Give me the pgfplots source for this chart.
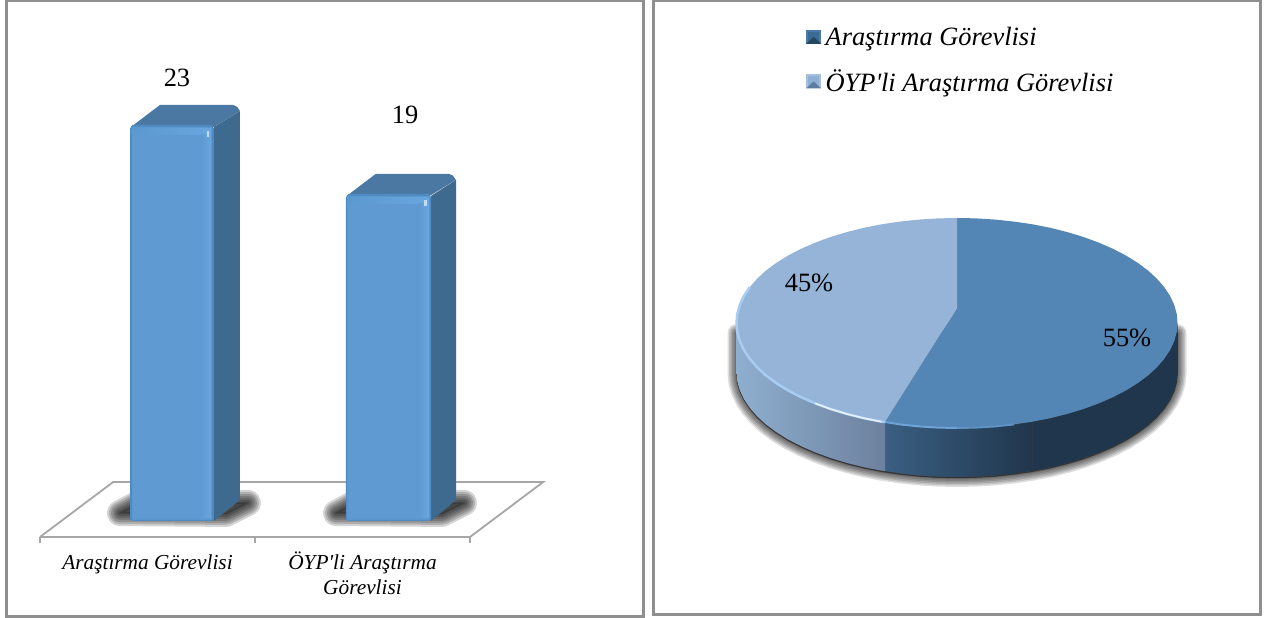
\documentclass[border=0pt]{standalone}
\usepackage{fontspec}
\usepackage{pgfplots}
\pgfplotsset{compat=1.18}
\setmainfont{Liberation Serif}
\newfontfamily\lserif{Liberation Serif}
\definecolor{panel}{HTML}{8F8F8F}
\definecolor{floorc}{HTML}{A6A6A6}
\definecolor{barflat}{HTML}{5F9BD2}
\definecolor{barlight}{HTML}{69A6DF}
\definecolor{baredge}{HTML}{4F8AC2}
\definecolor{barmid}{HTML}{5C98D0}
\definecolor{bartop}{HTML}{4A78A3}
\definecolor{barside}{HTML}{3F6A8F}
\definecolor{sliceA}{HTML}{5385B5}
\definecolor{sliceB}{HTML}{95B4D8}
\definecolor{sideAa}{HTML}{3A5F82}
\definecolor{sideAb}{HTML}{20364C}
\definecolor{sideBa}{HTML}{8FAFD0}
\definecolor{sideBb}{HTML}{6C819E}
\definecolor{legAa}{HTML}{4A7BA6}
\definecolor{legAb}{HTML}{3B6A94}
\definecolor{legAc}{HTML}{264560}
\definecolor{legBa}{HTML}{A4C0DE}
\definecolor{legBb}{HTML}{8FB0D4}
\definecolor{legBc}{HTML}{5F7C9E}
\definecolor{rimB}{HTML}{A9CCF2}
\definecolor{rimW}{HTML}{E5F1FF}
\definecolor{rimA}{HTML}{6FA2D6}
\definecolor{rimAb}{HTML}{5F92C4}
\pgfplotsset{
  blur/.style={draw=black, opacity=0.13, line join=round, fill=none, no markers, forget plot},
  blurb/.style={draw=black, opacity=0.17, line join=round, fill=none, no markers, forget plot},
  poly/.style={draw=none, no markers, forget plot},
}
\newcommand\softshadow[1]{%
  \addplot[blur,line width=18bp] coordinates {#1} -- cycle;
  \addplot[blur,line width=15bp] coordinates {#1} -- cycle;
  \addplot[blur,line width=12bp] coordinates {#1} -- cycle;
  \addplot[blur,line width=9bp] coordinates {#1} -- cycle;
  \addplot[blur,line width=6bp] coordinates {#1} -- cycle;
  \addplot[blur,line width=3bp] coordinates {#1} -- cycle;
  \addplot[blur,line width=1bp,fill=black!75,fill opacity=1,draw opacity=.3] coordinates {#1} -- cycle;
}
\newcommand\barshadow[1]{%
  \addplot[blurb,line width=26bp] coordinates {#1} -- cycle;
  \addplot[blurb,line width=22bp] coordinates {#1} -- cycle;
  \addplot[blurb,line width=18bp] coordinates {#1} -- cycle;
  \addplot[blurb,line width=14bp] coordinates {#1} -- cycle;
  \addplot[blurb,line width=10bp] coordinates {#1} -- cycle;
  \addplot[blurb,line width=6bp] coordinates {#1} -- cycle;
  \addplot[blurb,line width=2bp,fill=black,fill opacity=.17] coordinates {#1} -- cycle;
}
\begin{document}
\begin{tikzpicture}[x=1bp,y=1bp]
\useasboundingbox (0,0) rectangle (1264,618);
\draw[panel,line width=3bp] (6.5,-5) -- (6.5,617.5) -- (643,617.5) -- (643,1.5) -- (6.5,1.5);
\draw[panel,line width=3bp] (653,617.5) -- (1260,617.5) -- (1260,3.5) -- (653,3.5) -- cycle;

% ---------- bars ----------
\begin{axis}[
  at={(40bp,81bp)}, anchor=south west, scale only axis,
  width=430bp, height=446.5bp,
  xmin=0, xmax=2, ymin=-0.93, ymax=25, clip=false,
  axis x line*=bottom, axis y line=none,
  axis line style={floorc,line width=1.8bp,-},
  xtick={0,1,2}, xticklabels={,,},
  tick align=outside, major tick length=6bp,
  x tick style={floorc,line width=1.8bp},
  extra x ticks={0.5,1.5},
  extra x tick labels={\vphantom{Ö}Araştırma Görevlisi,{ÖYP'li Araştırma\\Görevlisi}},
  extra x tick style={major tick length=0pt,
    tick label style={align=center,yshift=-11bp,font=\fontsize{21.4}{25}\lserif\itshape}},
]
\addplot[floorc,line width=1.8bp,no markers,forget plot] coordinates {(0,-0.93)(0.34,2.26)(2.34,2.26)(2,-0.93)};
\barshadow{(0.372,0.46)(0.442,0.93)(0.967,1.05)(0.865,0.41)}
\barshadow{(1.377,0.46)(1.447,0.93)(1.972,1.05)(1.870,0.41)}
% side and top faces
\addplot[poly,fill=barside] coordinates {(0.809,22.88)(0.930,23.81)(0.930,1.22)(0.809,0)} -- cycle;
\addplot[poly,fill=bartop] coordinates {(0.423,22.88)(0.558,24.16)(0.898,24.16)(0.917,24.05)(0.930,23.81)(0.809,22.88)} -- cycle;
\addplot[poly,fill=barside] coordinates {(1.819,18.88)(1.935,19.81)(1.935,1.22)(1.819,0)} -- cycle;
\addplot[poly,fill=bartop] coordinates {(1.427,18.88)(1.562,20.16)(1.902,20.16)(1.921,20.05)(1.934,19.81)(1.813,18.88)} -- cycle;
% front faces
\addplot[poly,fill=baredge] coordinates {(0.419,0.1)(0.430,0)(0.798,0)(0.809,0.1)(0.809,22.8)(0.797,23)(0.431,23)(0.419,22.8)} -- cycle;
\addplot[poly,fill=barmid] coordinates {(0.426,0.08)(0.802,0.08)(0.802,22.9)(0.426,22.9)} -- cycle;
\addplot[poly,fill=barflat] coordinates {(0.432,0.2)(0.796,0.2)(0.796,22.45)(0.432,22.45)} -- cycle;
\addplot[poly,left color=barmid,right color=barlight] coordinates {(0.426,22.45)(0.796,22.45)(0.796,22.8)(0.426,22.8)} -- cycle;
\addplot[poly,left color=barflat,right color=barlight] coordinates {(0.752,0.2)(0.796,0.2)(0.796,22.45)(0.752,22.45)} -- cycle;
\addplot[poly,fill=white!60!barlight] coordinates {(0.778,22.65)(0.788,22.65)(0.788,22.3)(0.778,22.3)} -- cycle;
\addplot[poly,fill=baredge] coordinates {(1.423,0.1)(1.434,0)(1.808,0)(1.819,0.1)(1.819,18.8)(1.807,19)(1.435,19)(1.423,18.8)} -- cycle;
\addplot[poly,fill=barmid] coordinates {(1.430,0.08)(1.812,0.08)(1.812,18.9)(1.430,18.9)} -- cycle;
\addplot[poly,fill=barflat] coordinates {(1.436,0.2)(1.806,0.2)(1.806,18.45)(1.436,18.45)} -- cycle;
\addplot[poly,left color=barmid,right color=barlight] coordinates {(1.430,18.45)(1.806,18.45)(1.806,18.8)(1.430,18.8)} -- cycle;
\addplot[poly,left color=barflat,right color=barlight] coordinates {(1.762,0.2)(1.806,0.2)(1.806,18.45)(1.762,18.45)} -- cycle;
\addplot[poly,fill=white!60!barlight] coordinates {(1.788,18.65)(1.798,18.65)(1.798,18.3)(1.788,18.3)} -- cycle;
\node[font=\fontsize{26.5}{30}\lserif] at (axis cs:0.637,25.73) {23};
\node[font=\fontsize{26.5}{30}\lserif] at (axis cs:1.698,23.6) {19};
\end{axis}

% ---------- pie ----------
\begin{axis}[
  at={(727bp,125bp)}, anchor=south west, scale only axis,
  width=460bp, height=290bp,
  xmin=-230, xmax=230, ymin=-170, ymax=120, clip=false,
  hide axis,
  legend style={at={(0.172,1.607)},anchor=north west,draw=none,fill=none,
    font=\fontsize{26.5}{30}\lserif\itshape,row sep=23bp,inner sep=0pt,outer sep=0pt,
    nodes={inner sep=0pt,outer sep=0pt}},
  legend cell align=left,
]
\softshadow{(220.5,-50)(219.7,-59.2)(217.2,-68.2)(213,-77.2)(207.2,-85.9)(199.8,-94.4)(191,-102.5)(180.6,-110.2)(168.9,-117.5)(155.9,-124.2)(141.7,-130.4)(126.5,-136)(110.3,-140.9)(93.2,-145.2)(75.4,-148.7)(57.1,-151.4)(38.3,-153.4)(19.2,-154.6)(0,-155)(-19.2,-154.6)(-38.3,-153.4)(-57.1,-151.4)(-75.4,-148.7)(-93.2,-145.2)(-110.3,-140.9)(-126.5,-136)(-141.7,-130.4)(-155.9,-124.2)(-168.9,-117.5)(-180.6,-110.2)(-191,-102.5)(-199.8,-94.4)(-207.2,-85.9)(-213,-77.2)(-217.2,-68.2)(-219.7,-59.2)(-220.5,-50)(-220.5,-10)(220.5,-10)}
% sides
\addplot[poly,left color=sideAa,right color=sideAb] coordinates {(-72,-99)(-57.1,-101.4)(-38.3,-103.4)(-19.2,-104.6)(0,-105)(19.2,-104.6)(38.3,-103.4)(57.1,-101.4)(75.4,-98.7)(75.4,-147.7)(57.1,-150.4)(38.3,-152.4)(19.2,-153.6)(0,-154)(-19.2,-153.6)(-38.3,-152.4)(-57.1,-150.4)(-72,-148)} -- cycle;
\addplot[poly,fill=sideAb] coordinates {(75.4,-98.7)(93.2,-95.2)(110.3,-90.9)(126.5,-86)(141.7,-80.4)(155.9,-74.2)(168.9,-67.5)(180.6,-60.2)(191,-52.5)(199.8,-44.4)(207.2,-35.9)(213,-27.2)(217.2,-18.2)(219.7,-9.2)(220.5,0)(220.5,-49)(219.7,-58.2)(217.2,-67.2)(213,-76.2)(207.2,-84.9)(199.8,-93.4)(191,-101.5)(180.6,-109.2)(168.9,-116.5)(155.9,-123.2)(141.7,-129.4)(126.5,-135)(110.3,-139.9)(93.2,-144.2)(75.4,-147.7)} -- cycle;
\addplot[poly,left color=sideBa,right color=sideBb] coordinates {(-72,-99)(-75.4,-98.7)(-93.2,-95.2)(-110.3,-90.9)(-126.5,-86)(-141.7,-80.4)(-155.9,-74.2)(-168.9,-67.5)(-180.6,-60.2)(-191,-52.5)(-199.8,-44.4)(-207.2,-35.9)(-213,-27.2)(-217.2,-18.2)(-219.7,-9.2)(-220.5,0)(-220.5,-49)(-219.7,-58.2)(-217.2,-67.2)(-213,-76.2)(-207.2,-84.9)(-199.8,-93.4)(-191,-101.5)(-180.6,-109.2)(-168.9,-116.5)(-155.9,-123.2)(-141.7,-129.4)(-126.5,-135)(-110.3,-139.9)(-93.2,-144.2)(-75.4,-147.7)(-72,-148)} -- cycle;
% top slices: 55 and 45
\addplot[draw=none,no markers,fill=sliceA,
  legend image code/.code={
    \fill[legAa] (0,-7bp) rectangle (15bp,7bp);
    \fill[legAb] (2bp,-5bp) -- (13bp,-5bp) -- (13bp,5bp) -- (2bp,5bp) -- cycle;
    \fill[legAc] (0bp,-7bp) -- (15bp,-7bp) -- (7.5bp,0bp) -- cycle;
  }] coordinates {(0,15)(0,105)(19.2,104.6)(38.3,103.4)(57.1,101.4)(75.4,98.7)(93.2,95.2)(110.3,90.9)(126.5,86)(141.7,80.4)(155.9,74.2)(168.9,67.5)(180.6,60.2)(191,52.5)(199.8,44.4)(207.2,35.9)(213,27.2)(217.2,18.2)(219.7,9.2)(220.5,0)(219.7,-9.2)(217.2,-18.2)(213,-27.2)(207.2,-35.9)(199.8,-44.4)(191,-52.5)(180.6,-60.2)(168.9,-67.5)(155.9,-74.2)(141.7,-80.4)(126.5,-86)(110.3,-90.9)(93.2,-95.2)(75.4,-98.7)(57.1,-101.4)(38.3,-103.4)(19.2,-104.6)(0,-105)(-19.2,-104.6)(-38.3,-103.4)(-57.1,-101.4)(-72,-99)} -- cycle;
\addlegendentry{\hspace{4.5bp}Araştırma Görevlisi}
\addplot[draw=none,no markers,fill=sliceB,
  legend image code/.code={
    \fill[legBa] (0,-7bp) rectangle (15bp,7bp);
    \fill[legBb] (2bp,-5bp) -- (13bp,-5bp) -- (13bp,5bp) -- (2bp,5bp) -- cycle;
    \fill[legBc] (0bp,-7bp) -- (15bp,-7bp) -- (7.5bp,0bp) -- cycle;
  }] coordinates {(0,15)(-72,-99)(-75.4,-98.7)(-93.2,-95.2)(-110.3,-90.9)(-126.5,-86)(-141.7,-80.4)(-155.9,-74.2)(-168.9,-67.5)(-180.6,-60.2)(-191,-52.5)(-199.8,-44.4)(-207.2,-35.9)(-213,-27.2)(-217.2,-18.2)(-219.7,-9.2)(-220.5,0)(-219.7,9.2)(-217.2,18.2)(-213,27.2)(-207.2,35.9)(-199.8,44.4)(-191,52.5)(-180.6,60.2)(-168.9,67.5)(-155.9,74.2)(-141.7,80.4)(-126.5,86)(-110.3,90.9)(-93.2,95.2)(-75.4,98.7)(-57.1,101.4)(-38.3,103.4)(-19.2,104.6)(0,105)} -- cycle;
\addlegendentry{\hspace{4.5bp}ÖYP'li Araştırma Görevlisi}
% rims
\addplot[rimB,line width=2.5bp,no markers,forget plot] coordinates {(-72,-99)(-75.4,-98.7)(-93.2,-95.2)(-110.3,-90.9)(-126.5,-86)(-141.7,-80.4)(-155.9,-74.2)(-168.9,-67.5)(-180.6,-60.2)(-191,-52.5)(-199.8,-44.4)(-207.2,-35.9)(-213,-27.2)(-217.2,-18.2)(-219.7,-9.2)(-220.5,0)(-219.7,9.2)(-217.2,18.2)(-213,27.2)(-207.2,35.9)};
\addplot[rimW,line width=1.6bp,no markers,forget plot] coordinates {(-75.4,-98.7)(-93.2,-95.2)(-110.3,-90.9)(-126.5,-86)(-141.7,-80.4)};
\addplot[rimA,line width=2bp,no markers,forget plot] coordinates {(-72,-99)(-57.1,-101.4)(-38.3,-103.4)(-19.2,-104.6)(0,-105)};
\addplot[rimAb,line width=2bp,no markers,forget plot] coordinates {(0,-105)(19.2,-104.6)(38.3,-103.4)(57.1,-101.4)};
\node[font=\fontsize{26.5}{30}\lserif] at (axis cs:-148,40) {45\%};
\node[font=\fontsize{26.5}{30}\lserif] at (axis cs:170,-15) {55\%};
\end{axis}
\end{tikzpicture}
\end{document}
